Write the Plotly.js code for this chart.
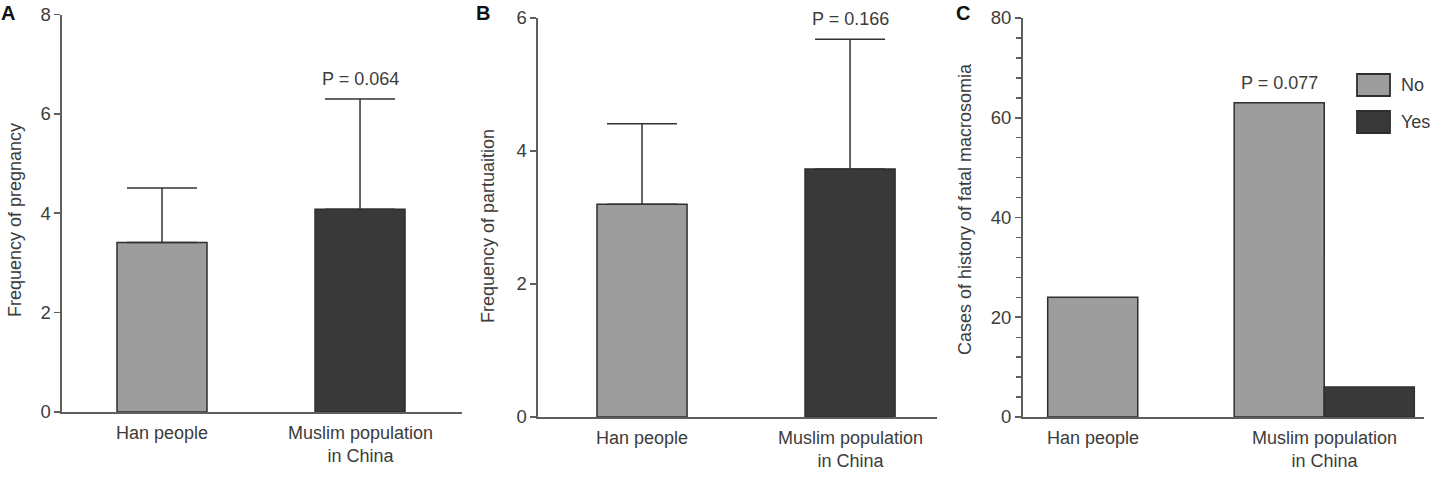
<!DOCTYPE html>
<html>
<head>
<meta charset="utf-8">
<script src="https://cdn.plot.ly/plotly-3.0.1.min.js"></script>
<style>
  html, body { margin: 0; padding: 0; background: #fff; }
  #chart { width: 1440px; height: 480px; }
</style>
</head>
<body>
<div id="chart"></div>
<script>
// Groups compared in every panel
const categories = ['Han people', 'Muslim population in China'];
const tickLabels = ['Han people', 'Muslim population<br>in China'];

// Panel A: frequency of pregnancy (mean and upper SD)
const pregnancyMean = [3.41, 4.08];
const pregnancySD = [1.10, 2.22];

// Panel B: frequency of parturition (mean and upper SD)
const parturitionMean = [3.20, 3.73];
const parturitionSD = [1.21, 1.95];

// Panel C: cases with / without a history of fetal macrosomia
const seriesNames = ['No', 'Yes'];
const macrosomiaNo = [24, 63];
const macrosomiaYes = [0, 6];

// P values for the group comparison in each panel
const pValues = ['0.064', '0.166', '0.077'];
const panelLetters = ['A', 'B', 'C'];

const FONT = 'Liberation Sans, Arial, Helvetica, sans-serif';
const TEXT = '#3c3c3c';
const LIGHT = '#9d9d9d';
const DARK = '#393939';
const EDGE = '#2e2e2e';
const AXIS = '#5e5e5e';

const W = 1440, H = 480;
const px = v => v / W;
const py = v => (H - v) / H;

const widthA = 0.4545;
const widthB = 0.433;
const widthC = 0.483;

function errBars(sd) {
  return {
    type: 'data', symmetric: false, array: sd, arrayminus: sd.map(() => 0),
    width: 35, thickness: 1.5, color: '#333333', visible: true
  };
}

// Outline only the bars that have a height, so empty bars leave the axis clean
const outlineWidths = vals => vals.map(v => (v > 0 ? 1.5 : 0));

const traces = [
  {
    type: 'bar', x: categories, y: pregnancyMean, width: widthA,
    marker: { color: [LIGHT, DARK], line: { color: EDGE, width: 1.5 } },
    error_y: errBars(pregnancySD), xaxis: 'x', yaxis: 'y', hoverinfo: 'y'
  },
  {
    type: 'bar', x: categories, y: parturitionMean, width: widthB,
    marker: { color: [LIGHT, DARK], line: { color: EDGE, width: 1.5 } },
    error_y: errBars(parturitionSD), xaxis: 'x2', yaxis: 'y2', hoverinfo: 'y'
  },
  {
    type: 'bar', name: seriesNames[0], x: categories, y: macrosomiaNo,
    width: widthC, offset: -widthC,
    marker: { color: LIGHT, line: { color: EDGE, width: outlineWidths(macrosomiaNo) } },
    xaxis: 'x3', yaxis: 'y3'
  },
  {
    type: 'bar', name: seriesNames[1], x: categories, y: macrosomiaYes,
    width: widthC, offset: 0,
    marker: { color: DARK, line: { color: EDGE, width: outlineWidths(macrosomiaYes) } },
    xaxis: 'x3', yaxis: 'y3'
  }
];

function xAxis(domain, range) {
  return {
    domain: domain, type: 'category', range: range,
    showline: true, linecolor: AXIS, linewidth: 1.6,
    showticklabels: false, ticks: '', showgrid: false, zeroline: false,
    fixedrange: true
  };
}

function yAxis(domain, range, dtick, anchor, minor) {
  const ax = {
    domain: domain, range: range, dtick: dtick, tick0: 0,
    showline: true, linecolor: AXIS, linewidth: 1.6,
    ticks: 'outside', ticklen: 6, tickwidth: 1.6, tickcolor: AXIS,
    showgrid: false, zeroline: false, anchor: anchor,
    tickfont: { family: FONT, size: 18.5, color: TEXT },
    fixedrange: true
  };
  if (minor) ax.minor = minor;
  return ax;
}

const annotations = [];

// Category labels under each x axis
function catLabels(xref, yref, xs) {
  xs.forEach((xv, i) => {
    annotations.push({
      xref: xref, yref: yref, x: xv, y: 0, yanchor: 'top', xanchor: 'center',
      yshift: -9, showarrow: false, text: tickLabels[i], align: 'center',
      font: { family: FONT, size: 18, color: TEXT }
    });
  });
}
catLabels('x', 'y', [0, 1]);
catLabels('x2', 'y2', [0, 1]);
catLabels('x3', 'y3', [-widthC / 2, 1]);

// P value above the Muslim group in each panel
[
  { xref: 'x', yref: 'y', x: 1, y: pregnancyMean[1] + pregnancySD[1] },
  { xref: 'x2', yref: 'y2', x: 1, y: parturitionMean[1] + parturitionSD[1] },
  { xref: 'x3', yref: 'y3', x: 1 - widthC / 2, y: macrosomiaNo[1] }
].forEach((p, i) => {
  annotations.push({
    xref: p.xref, yref: p.yref, x: p.x, y: p.y, yanchor: 'bottom',
    yshift: 8, showarrow: false, text: 'P = ' + pValues[i],
    font: { family: FONT, size: 18, color: TEXT }
  });
});

// Y axis titles
[
  { x: 15, y: 220, text: 'Frequency of pregnancy' },
  { x: 488, y: 226, text: 'Frequency of partuaition' },
  { x: 965, y: 209, text: 'Cases of history of fatal macrosomia' }
].forEach(t => {
  annotations.push({
    xref: 'paper', yref: 'paper', x: px(t.x), y: py(t.y),
    xanchor: 'center', yanchor: 'middle', textangle: -90, showarrow: false,
    text: t.text, font: { family: FONT, size: 18, color: TEXT }
  });
});

// Panel letters
[8, 483, 963].forEach((xv, i) => {
  annotations.push({
    xref: 'paper', yref: 'paper', x: px(xv), y: py(13),
    xanchor: 'center', yanchor: 'middle', showarrow: false,
    text: '<b>' + panelLetters[i] + '</b>',
    font: { family: FONT, size: 20, color: '#111111' }
  });
});

// Legend for panel C
const legendRows = [
  { top: 74, color: LIGHT, name: seriesNames[0] },
  { top: 111, color: DARK, name: seriesNames[1] }
];
const shapes = [];
legendRows.forEach(r => {
  shapes.push({
    type: 'rect', xref: 'paper', yref: 'paper',
    x0: px(1357), x1: px(1390), y0: py(r.top + 22), y1: py(r.top),
    fillcolor: r.color, line: { color: EDGE, width: 1.8 }
  });
  annotations.push({
    xref: 'paper', yref: 'paper', x: px(1399), y: py(r.top + 11),
    xanchor: 'left', yanchor: 'middle', showarrow: false,
    text: r.name, font: { family: FONT, size: 18, color: TEXT }
  });
});

const layout = {
  width: W, height: H,
  margin: { l: 0, r: 0, t: 0, b: 0 },
  paper_bgcolor: '#ffffff', plot_bgcolor: '#ffffff',
  showlegend: false,
  barmode: 'group', bargap: 0.034, bargroupgap: 0,
  font: { family: FONT, size: 18, color: TEXT },
  xaxis: xAxis([px(62), px(462)], [-0.505, 1.515]),
  yaxis: yAxis([py(412), py(14.5)], [0, 8], 2, 'x'),
  xaxis2: xAxis([px(538), px(937)], [-0.5, 1.418]),
  yaxis2: yAxis([py(417), py(18)], [0, 6], 2, 'x2'),
  xaxis3: xAxis([px(1022.7), px(1424)], [-0.617, 1.535]),
  yaxis3: yAxis([py(417), py(18)], [0, 80], 20, 'x3',
    { dtick: 4, ticks: 'outside', ticklen: 5, tickwidth: 1.4, tickcolor: AXIS }),
  annotations: annotations,
  shapes: shapes
};
layout.xaxis.anchor = 'y';
layout.xaxis2.anchor = 'y2';
layout.xaxis3.anchor = 'y3';

Plotly.newPlot('chart', traces, layout, { displayModeBar: false, staticPlot: true });
</script>
</body>
</html>
